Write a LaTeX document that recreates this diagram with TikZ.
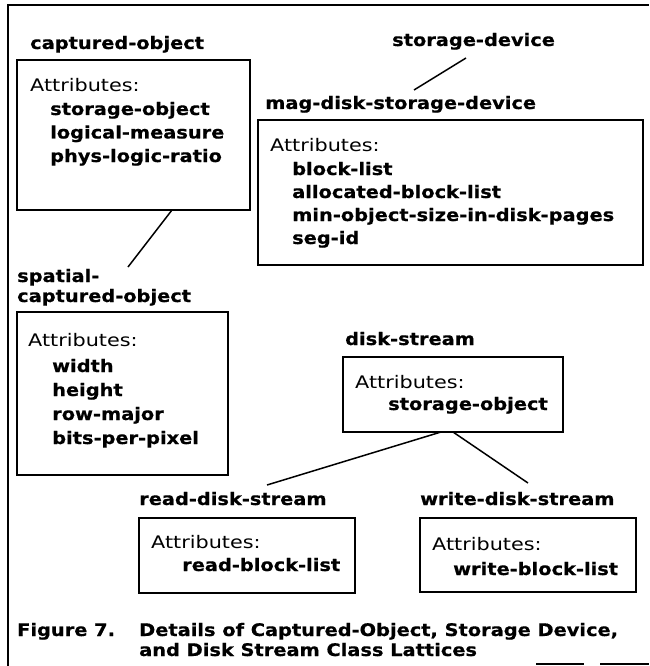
\documentclass[tikz,border=0pt]{standalone}
\usepackage{fontspec}
\setmainfont{DejaVu Sans}[FakeStretch=1.12, BoldFeatures={FakeBold=0.6}]
\newfontfamily\attrfont{DejaVu Sans}[FakeStretch=1.2]
\begin{document}
\begin{tikzpicture}[x=1pt,y=-1pt,
  box/.style={draw, line width=1.8pt, rectangle, inner sep=0pt, outer sep=0pt, anchor=north west},
  lbl/.style={anchor=base west, inner sep=0pt, font=\fontsize{17.3}{20}\selectfont\bfseries},
  attr/.style={anchor=base west, inner sep=0pt, font=\fontsize{17.3}{20}\attrfont},
  link/.style={line width=1.5pt},
  frame/.style={line width=2.2pt}]
\useasboundingbox (0,0) rectangle (649,666);
% frame
\draw[frame] (8,666) -- (8,5) -- (649,5);
\draw[line width=1.2pt] (536,664) -- (584,664) (600,664) -- (649,664);

% captured-object
\node[lbl] (lco) at (30,49) {captured-object};
\node[box, minimum width=233pt, minimum height=150pt] (bco) at (17,60) {};
\node[attr] (aco) at (30,92) {Attributes:};
\node[lbl] (co1) at (50,115) {storage-object};
\node[lbl] (co2) at (50,138.5) {logical-measure};
\node[lbl] (co3) at (50,162) {phys-logic-ratio};

% spatial-captured-object
\node[lbl] (lsp1) at (17,282) {spatial-};
\node[lbl] (lsp2) at (17,302) {captured-object};
\node[box, minimum width=211pt, minimum height=163pt] (bsp) at (17,312) {};
\node[attr] (asp) at (28,346) {Attributes:};
\node[lbl] (sp1) at (52,372) {width};
\node[lbl] (sp2) at (52,396) {height};
\node[lbl] (sp3) at (52,420) {row-major};
\node[lbl] (sp4) at (52,444) {bits-per-pixel};
\coordinate (c1a) at (172,210);
\coordinate (c1b) at (128,267);
\draw[link] (c1a) -- (c1b);

% storage device
\node[lbl] (lsd) at (392,46) {storage-device};
\node[lbl] (lmd) at (265,109) {mag-disk-storage-device};
\coordinate (c2a) at (466,58);
\coordinate (c2b) at (414,90);
\draw[link] (c2a) -- (c2b);
\node[box, minimum width=385pt, minimum height=145pt] (bmd) at (258,120) {};
\node[attr] (amd) at (270,151) {Attributes:};
\node[lbl] (md1) at (292,175) {block-list};
\node[lbl] (md2) at (292,198) {allocated-block-list};
\node[lbl] (md3) at (292,221) {min-object-size-in-disk-pages};
\node[lbl] (md4) at (292,244) {seg-id};

% disk-stream
\node[lbl] (lds) at (345,345) {disk-stream};
\node[box, minimum width=220pt, minimum height=75pt] (bds) at (343,357) {};
\node[attr] (ads) at (355,388) {Attributes:};
\node[lbl] (ds1) at (388,410) {storage-object};
\coordinate (c3a) at (441,432);
\coordinate (c3b) at (267,485);
\coordinate (c4a) at (453,432);
\coordinate (c4b) at (528,483);
\draw[link] (c3a) -- (c3b);
\draw[link] (c4a) -- (c4b);

% read-disk-stream
\node[lbl] (lrd) at (139,505) {read-disk-stream};
\node[box, minimum width=216pt, minimum height=75pt] (brd) at (139,518) {};
\node[attr] (ard) at (151,548) {Attributes:};
\node[lbl] (rd1) at (182,571) {read-block-list};

% write-disk-stream
\node[lbl] (lwd) at (420,505) {write-disk-stream};
\node[box, minimum width=216pt, minimum height=74pt] (bwd) at (420,518) {};
\node[attr] (awd) at (432,550) {Attributes:};
\node[lbl] (wd1) at (453,575) {write-block-list};

% caption
\node[lbl] (cap0) at (17,636) {Figure 7.};
\node[lbl] (cap1) at (139,636) {Details of Captured-Object, Storage Device,};
\node[lbl] (cap2) at (139,656) {and Disk Stream Class Lattices};
\end{tikzpicture}
\end{document}
